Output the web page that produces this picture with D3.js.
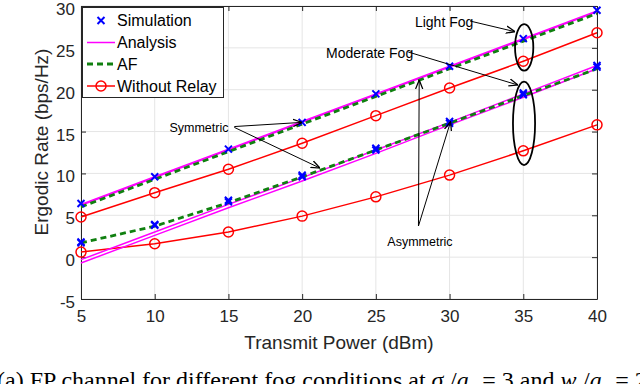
<!DOCTYPE html>
<html>
<head>
<meta charset="utf-8">
<script src="https://cdn.jsdelivr.net/npm/d3@7"></script>
<style>
  body { margin: 0; background: #fff; }
  svg { display: block; }
  text { font-family: "Liberation Sans", Arial, sans-serif; }
</style>
</head>
<body>
<div id="chart"></div>
<script>
// data
const power = [5, 10, 15, 20, 25, 30, 35, 40];
const xTicks = [5, 10, 15, 20, 25, 30, 35, 40];
const yTicks = [-5, 0, 5, 10, 15, 20, 25, 30];

// light fog
const simLight      = [6.4, 9.6, 12.9, 16.1, 19.5, 22.8, 26.1, 29.5];
const anaLightSym   = [6.3, 9.6, 12.9, 16.2, 19.5, 22.8, 26.1, 29.4];
const anaLightAsym  = [6.2, 9.5, 12.8, 16.1, 19.4, 22.7, 26.0, 29.3];
const afLight       = [6.0, 9.3, 12.6, 15.9, 19.2, 22.5, 25.8, 29.1];
const noRelayLight  = [4.8, 7.7, 10.5, 13.6, 16.9, 20.2, 23.4, 26.8];

// moderate fog
const simModSym     = [1.8, 3.9, 6.8, 9.8, 13.0, 16.2, 19.6, 22.9];
const simModAsym    = [1.7, 3.8, 6.6, 9.6, 12.8, 16.0, 19.4, 22.7];
const anaModSym     = [-0.3, 3.0, 6.3, 9.5, 12.8, 16.1, 19.5, 22.9];
const anaModAsym    = [-0.7, 2.6, 5.9, 9.1, 12.4, 15.8, 19.1, 22.5];
const afMod         = [1.7, 3.7, 6.5, 9.6, 12.8, 16.0, 19.3, 22.5];
const noRelayMod    = [0.6, 1.6, 3.0, 4.9, 7.2, 9.8, 12.7, 15.8];

const legendNames = ["Simulation", "Analysis", "AF", "Without Relay"];

// annotations in data units
const labels = [
  {text: "Light Fog",    x: 27.65, y: 28.1, anchor: "start", size: 14},
  {text: "Moderate Fog", x: 21.62, y: 24.4, anchor: "start", size: 14},
  {text: "Symmetric",    x: 13.0,  y: 15.5, anchor: "middle", size: 12.5},
  {text: "Asymmetric",   x: 27.99, y: 1.8,  anchor: "middle", size: 12.5}
];
const arrows = [
  {x1: 31.4,  y1: 28.2, x2: 34.44, y2: 26.93},
  {x1: 27.2,  y1: 24.5, x2: 34.64, y2: 20.56},
  {x1: 15.4,  y1: 15.5, x2: 21.21, y2: 10.64},
  {x1: 15.4,  y1: 15.6, x2: 20.0,  y2: 16.1},
  {x1: 27.89, y1: 3.72, x2: 27.94, y2: 21.16},
  {x1: 27.89, y1: 3.72, x2: 30.07, y2: 16.2}
];
const ellipses = [
  {cx: 35.06, cy: 25.06, rx: 0.62, ry: 2.78},
  {cx: 35.05, cy: 15.98, rx: 0.75, ry: 4.98}
];

const width = 640, height = 384;
const margin = {top: 6, right: 43, bottom: 85, left: 81};

const svg = d3.select("#chart").append("svg")
  .attr("width", width)
  .attr("height", height);

const x = d3.scaleLinear().domain([5, 40]).range([margin.left, width - margin.right]);
const y = d3.scaleLinear().domain([-5, 30]).range([height - margin.bottom, margin.top]);

const axisColor = "#262626";

// grid
svg.append("g").selectAll("line").data(xTicks).join("line")
  .attr("x1", d => x(d)).attr("x2", d => x(d))
  .attr("y1", y(-5)).attr("y2", y(30))
  .attr("stroke", "#e5e5e5").attr("stroke-width", 1);
svg.append("g").selectAll("line").data(yTicks).join("line")
  .attr("x1", x(5)).attr("x2", x(40))
  .attr("y1", d => y(d)).attr("y2", d => y(d))
  .attr("stroke", "#e5e5e5").attr("stroke-width", 1);

// axes, ticks pointing inward
const styleAxis = g => {
  g.select(".domain").attr("stroke", axisColor);
  g.selectAll(".tick line").attr("stroke", axisColor);
  g.selectAll(".tick text").attr("fill", "#262626").style("font-size", "17px")
    .style("font-family", "'Liberation Sans', Arial, sans-serif");
};
const plain = d => String(d);   // keep the ascii hyphen for -5
svg.append("g")
  .attr("transform", `translate(0,${y(-5)})`)
  .call(d3.axisBottom(x).tickValues(xTicks).tickFormat(plain).tickSize(-5).tickSizeOuter(0).tickPadding(11))
  .call(styleAxis);
svg.append("g")
  .attr("transform", `translate(0,${y(30)})`)
  .call(d3.axisTop(x).tickValues(xTicks).tickSize(-5).tickSizeOuter(0).tickFormat(""))
  .call(styleAxis);
svg.append("g")
  .attr("transform", `translate(${x(5)},0)`)
  .call(d3.axisLeft(y).tickValues(yTicks).tickFormat(plain).tickSize(-5).tickSizeOuter(0).tickPadding(6))
  .call(styleAxis)
  .call(g => g.selectAll(".tick text").attr("dy", "0.5em"));
svg.append("g")
  .attr("transform", `translate(${x(40)},0)`)
  .call(d3.axisRight(y).tickValues(yTicks).tickSize(-5).tickSizeOuter(0).tickFormat(""))
  .call(styleAxis);

// axis titles
svg.append("text")
  .attr("x", (x(5) + x(40)) / 2).attr("y", 349)
  .attr("text-anchor", "middle").attr("fill", "#262626")
  .style("font-size", "19px").text("Transmit Power (dBm)");
svg.append("text")
  .attr("transform", `translate(48,142) rotate(-90)`)
  .attr("text-anchor", "middle").attr("fill", "#262626")
  .style("font-size", "19px").text("Ergodic Rate (bps/Hz)");

const line = d3.line().x((d, i) => x(power[i])).y(d => y(d));

const drawLine = (vals, color, w, dash) => svg.append("path")
  .datum(vals)
  .attr("d", line)
  .attr("fill", "none")
  .attr("stroke", color)
  .attr("stroke-width", w)
  .attr("stroke-dasharray", dash || null);

const drawCircles = vals => svg.append("g").selectAll("circle").data(vals).join("circle")
  .attr("cx", (d, i) => x(power[i])).attr("cy", d => y(d))
  .attr("r", 5).attr("fill", "none").attr("stroke", "#ff0000").attr("stroke-width", 1.5);

const cross = (g, cx, cy, s) => g.append("path")
  .attr("d", `M${cx - s},${cy - s}L${cx + s},${cy + s}M${cx - s},${cy + s}L${cx + s},${cy - s}`)
  .attr("stroke", "#0000ff").attr("stroke-width", 2).attr("fill", "none");

const drawCrosses = vals => {
  const g = svg.append("g");
  vals.forEach((d, i) => cross(g, x(power[i]), y(d), 3.5));
};

// without relay
drawLine(noRelayLight, "#ff0000", 1.5);
drawCircles(noRelayLight);
drawLine(noRelayMod, "#ff0000", 1.5);
drawCircles(noRelayMod);

// analysis
drawLine(anaLightSym, "#ff00ff", 1.5);
drawLine(anaLightAsym, "#ff00ff", 1.5);
drawLine(anaModSym, "#ff00ff", 1.5);
drawLine(anaModAsym, "#ff00ff", 1.5);

// AF
drawLine(afLight, "#108010", 2.8, "6,4");
drawLine(afMod, "#108010", 2.8, "6,4");

// simulation
drawCrosses(simLight);
drawCrosses(simModSym);
drawCrosses(simModAsym);

// annotations
svg.append("defs").append("marker")
  .attr("id", "head").attr("viewBox", "0 0 10 10")
  .attr("refX", 10).attr("refY", 5)
  .attr("markerWidth", 9).attr("markerHeight", 9)
  .attr("markerUnits", "userSpaceOnUse")
  .attr("orient", "auto")
  .append("path").attr("d", "M0,1L10,5L0,9").attr("fill", "none")
  .attr("stroke", "#000").attr("stroke-width", 1.4);

svg.append("g").selectAll("line").data(arrows).join("line")
  .attr("x1", d => x(d.x1)).attr("y1", d => y(d.y1))
  .attr("x2", d => x(d.x2)).attr("y2", d => y(d.y2))
  .attr("stroke", "#000").attr("stroke-width", 1)
  .attr("marker-end", "url(#head)");

svg.append("g").selectAll("ellipse").data(ellipses).join("ellipse")
  .attr("cx", d => x(d.cx)).attr("cy", d => y(d.cy))
  .attr("rx", d => x(d.cx + d.rx) - x(d.cx))
  .attr("ry", d => y(d.cy - d.ry) - y(d.cy))
  .attr("fill", "none").attr("stroke", "#000").attr("stroke-width", 1.8);

svg.append("g").selectAll("text").data(labels).join("text")
  .attr("x", d => x(d.x)).attr("y", d => y(d.y))
  .attr("dy", "0.35em")
  .attr("text-anchor", d => d.anchor)
  .style("font-size", d => d.size + "px")
  .attr("fill", "#000")
  .text(d => d.text);

// legend
const lg = svg.append("g");
lg.append("rect")
  .attr("x", 82.5).attr("y", 7.5).attr("width", 141).attr("height", 90)
  .attr("fill", "#fff").attr("stroke", axisColor).attr("stroke-width", 1);
const rows = [20.5, 42.5, 64, 86];
legendNames.forEach((name, i) => {
  const ry = rows[i];
  if (i === 0) cross(lg, 101, ry, 3.5);
  if (i === 1) lg.append("line").attr("x1", 87).attr("x2", 115).attr("y1", ry).attr("y2", ry)
    .attr("stroke", "#ff00ff").attr("stroke-width", 1.5);
  if (i === 2) lg.append("line").attr("x1", 87).attr("x2", 115).attr("y1", ry).attr("y2", ry)
    .attr("stroke", "#108010").attr("stroke-width", 2.8).attr("stroke-dasharray", "6,4");
  if (i === 3) {
    lg.append("line").attr("x1", 87).attr("x2", 115).attr("y1", ry).attr("y2", ry)
      .attr("stroke", "#ff0000").attr("stroke-width", 1.5);
    lg.append("circle").attr("cx", 101).attr("cy", ry).attr("r", 5)
      .attr("fill", "none").attr("stroke", "#ff0000").attr("stroke-width", 1.5);
  }
  lg.append("text").attr("x", 117).attr("y", ry).attr("dy", "0.35em")
    .style("font-size", "16px").attr("fill", "#000").text(name);
});

// caption (cut off at the page edges, as in the figure)
const cap = svg.append("text")
  .attr("x", -3).attr("y", 388)
  .style("font-family", "'Liberation Serif', 'Times New Roman', serif")
  .style("font-size", "24px").attr("fill", "#000");
cap.append("tspan").text("(a) FP channel for different fog conditions at ");
cap.append("tspan").style("font-style", "italic").text("σ");
cap.append("tspan").style("font-style", "italic").style("font-size", "17px").attr("dy", 5).text("s");
cap.append("tspan").attr("dy", -5).text("/");
cap.append("tspan").style("font-style", "italic").text("a");
cap.append("tspan").style("font-style", "italic").style("font-size", "17px").attr("dy", 5).text("x");
cap.append("tspan").attr("dy", -5).text(" = 3 and ");
cap.append("tspan").style("font-style", "italic").text("w");
cap.append("tspan").style("font-style", "italic").style("font-size", "17px").attr("dy", 5).text("z");
cap.append("tspan").attr("dy", -5).text("/");
cap.append("tspan").style("font-style", "italic").text("a");
cap.append("tspan").style("font-style", "italic").style("font-size", "17px").attr("dy", 5).text("x");
cap.append("tspan").attr("dy", -5).text(" = 2");
</script>
</body>
</html>
